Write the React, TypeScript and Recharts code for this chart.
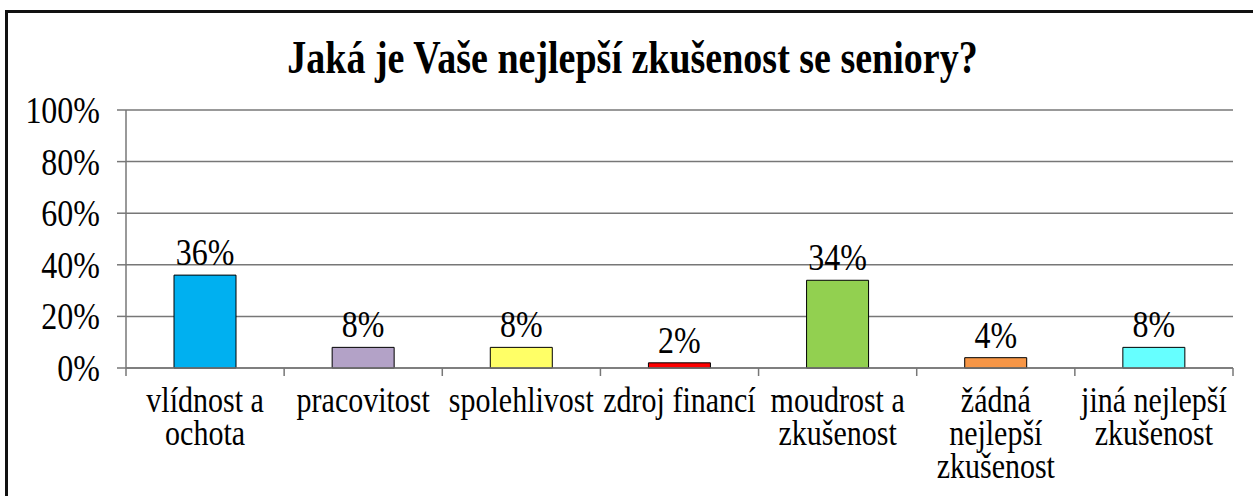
import React from "react";
import { BarChart, Bar, XAxis, YAxis, CartesianGrid, Cell, LabelList } from "recharts";

const title = "Jaká je Vaše nejlepší zkušenost se seniory?";
const categories = [
  "vlídnost a\nochota",
  "pracovitost",
  "spolehlivost",
  "zdroj financí",
  "moudrost a\nzkušenost",
  "žádná\nnejlepší\nzkušenost",
  "jiná nejlepší\nzkušenost",
];
const shares = [0.36, 0.08, 0.08, 0.02, 0.34, 0.04, 0.08];
const barColors = ["#00B0F0", "#B3A2C7", "#FFFF66", "#FF0000", "#92D050", "#F79646", "#66FFFF"];
const yTicks = [0, 0.2, 0.4, 0.6, 0.8, 1];

const data = categories.map((name, i) => ({ name, share: shares[i] }));

const FONT = "'Liberation Serif', 'Times New Roman', serif";
// the reference text is stretched vertically
const STRETCH = 1.2;
const LINE = "#777777";

const pct = (v: number) => `${Math.round(v * 100)}%`;

const YTick = (props: any) => {
  const { x, y, payload } = props;
  return (
    <g transform={`translate(${x},${y}) scale(1,${STRETCH})`}>
      <text x={0} y={0} dy="0.34em" textAnchor="end" fontSize={32} fontFamily={FONT} fill="#000">
        {pct(payload.value)}
      </text>
    </g>
  );
};

const XTick = (props: any) => {
  const { x, y, payload, index, visibleTicksCount, width } = props;
  const half = payload.offset || width / visibleTicksCount / 2;
  const lines = String(payload.value).split("\n");
  return (
    <g>
      <line x1={x - half} x2={x - half} y1={y - 8} y2={y} stroke={LINE} strokeWidth={1.5} />
      {index === visibleTicksCount - 1 && (
        <line x1={x + half} x2={x + half} y1={y - 8} y2={y} stroke={LINE} strokeWidth={1.5} />
      )}
      {lines.map((l, i) => (
        <g key={i} transform={`translate(${x},${y + 36 + i * 33}) scale(1,${STRETCH})`}>
          <text x={0} y={0} textAnchor="middle" fontSize={30} fontFamily={FONT} fill="#000">
            {l}
          </text>
        </g>
      ))}
    </g>
  );
};

const ValueLabel = (props: any) => {
  const { x, y, width, value } = props;
  return (
    <g transform={`translate(${x + width / 2},${y - 10}) scale(1,${STRETCH})`}>
      <text x={0} y={0} textAnchor="middle" fontSize={32} fontFamily={FONT} fill="#000">
        {pct(value)}
      </text>
    </g>
  );
};

export default function App() {
  return (
    <div style={{ position: "absolute", left: 0, top: 0, width: 1253, height: 496, background: "#fff", overflow: "hidden" }}>
      <div
        style={{
          position: "absolute",
          left: 5,
          top: 10,
          width: 1300,
          height: 600,
          border: "3px solid #111",
        }}
      />
      <div
        style={{
          position: "absolute",
          left: 0,
          width: 1265,
          top: 37,
          textAlign: "center",
          fontFamily: FONT,
          fontWeight: "bold",
          fontSize: 38,
          lineHeight: "40px",
          transform: `scaleY(${STRETCH})`,
          color: "#000",
        }}
      >
        {title}
      </div>
      <BarChart
        width={1253}
        height={496}
        data={data}
        margin={{ top: 110, right: 20, bottom: 0, left: 0 }}
        barSize={62}
      >
        <CartesianGrid vertical={false} stroke={LINE} strokeWidth={1.5} />
        <YAxis
          width={126}
          domain={[0, 1]}
          ticks={yTicks}
          tick={<YTick />}
          tickSize={9}
          tickMargin={17}
          axisLine={{ stroke: LINE, strokeWidth: 1.5 }}
          tickLine={{ stroke: LINE, strokeWidth: 1.5 }}
        />
        <XAxis
          dataKey="name"
          height={128}
          interval={0}
          tick={<XTick />}
          tickSize={8}
          tickMargin={0}
          tickLine={false}
          axisLine={{ stroke: LINE, strokeWidth: 1.5 }}
        />
        <Bar dataKey="share" stroke="#000" strokeWidth={1} isAnimationActive={false}>
          {data.map((d, i) => (
            <Cell key={d.name} fill={barColors[i]} />
          ))}
          <LabelList dataKey="share" content={<ValueLabel />} />
        </Bar>
      </BarChart>
    </div>
  );
}
